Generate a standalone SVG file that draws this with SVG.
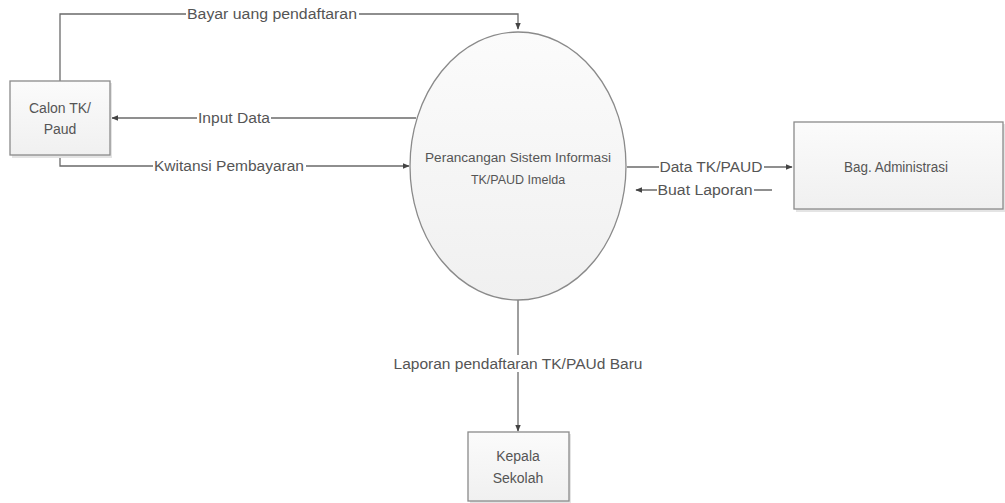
<svg xmlns="http://www.w3.org/2000/svg" width="1005" height="503" viewBox="0 0 1005 503">
<defs>
<marker id="arr" viewBox="0 0 10 10" refX="9" refY="5" markerWidth="7" markerHeight="7" orient="auto" markerUnits="userSpaceOnUse">
<path d="M0,1 L10,5 L0,9 z" fill="#444"/>
</marker>
<linearGradient id="g" x1="0" y1="0" x2="0" y2="1">
<stop offset="0" stop-color="#fbfbfb"/><stop offset="1" stop-color="#f0f0f0"/>
</linearGradient>
</defs>
<style>
.n{fill:url(#g);stroke:#8a8a8a;stroke-width:1.3}
.sh{fill:#e4e4e4;stroke:none}
.c{fill:none;stroke:#6a6a6a;stroke-width:1.3}
text{font-family:"Liberation Sans",Arial,sans-serif;fill:#555;font-size:14px;text-anchor:middle}
.s{font-size:12.5px}
.bg{fill:#fff}
</style>
<rect width="1005" height="503" fill="#fff"/>
<g id="connectors">
<path class="c" d="M60,81 V14 H518 V29" marker-end="url(#arr)"/>
<path class="c" d="M416,118 H112" marker-end="url(#arr)"/>
<path class="c" d="M60,155 V166 H409" marker-end="url(#arr)"/>
<path class="c" d="M627,167 H792" marker-end="url(#arr)"/>
<path class="c" d="M772,190 H636" marker-end="url(#arr)"/>
<path class="c" d="M518,300 V431" marker-end="url(#arr)"/>
<rect class="bg" x="186" y="6" width="173" height="16"/>
<text x="272" y="19" textLength="170" lengthAdjust="spacingAndGlyphs">Bayar uang pendaftaran</text>
<rect class="bg" x="197" y="110" width="74" height="16"/>
<text x="234" y="123" textLength="72" lengthAdjust="spacingAndGlyphs">Input Data</text>
<rect class="bg" x="153" y="158" width="153" height="16"/>
<text x="229" y="171" textLength="150" lengthAdjust="spacingAndGlyphs">Kwitansi Pembayaran</text>
<rect class="bg" x="659" y="159" width="105" height="16"/>
<text x="711" y="172" textLength="103" lengthAdjust="spacingAndGlyphs">Data TK/PAUD</text>
<rect class="bg" x="657" y="182" width="97" height="16"/>
<text x="705" y="195" textLength="95" lengthAdjust="spacingAndGlyphs">Buat Laporan</text>
<rect class="bg" x="392" y="355" width="253" height="17"/>
<text x="518" y="369" textLength="249" lengthAdjust="spacingAndGlyphs">Laporan pendaftaran TK/PAUd Baru</text>
</g>
<g id="calon">
<rect class="sh" x="12" y="83" width="100" height="75"/>
<rect class="n" x="10" y="81" width="100" height="74"/>
<text x="60" y="113">Calon TK/</text>
<text x="60" y="134">Paud</text>
</g>
<g id="proses">
<ellipse class="n" cx="518" cy="166" rx="108" ry="134"/>
<text class="s" x="518" y="162" textLength="186" lengthAdjust="spacingAndGlyphs">Perancangan Sistem Informasi</text>
<text class="s" x="518" y="184">TK/PAUD Imelda</text>
</g>
<g id="admin">
<rect class="sh" x="796" y="124" width="209" height="88"/>
<rect class="n" x="794" y="122" width="209" height="87"/>
<text x="896" y="172" textLength="104" lengthAdjust="spacingAndGlyphs">Bag. Administrasi</text>
</g>
<g id="kepala">
<rect class="sh" x="470" y="434" width="101" height="69"/>
<rect class="n" x="468" y="432" width="101" height="69"/>
<text x="518" y="461">Kepala</text>
<text x="518" y="483">Sekolah</text>
</g>
</svg>
